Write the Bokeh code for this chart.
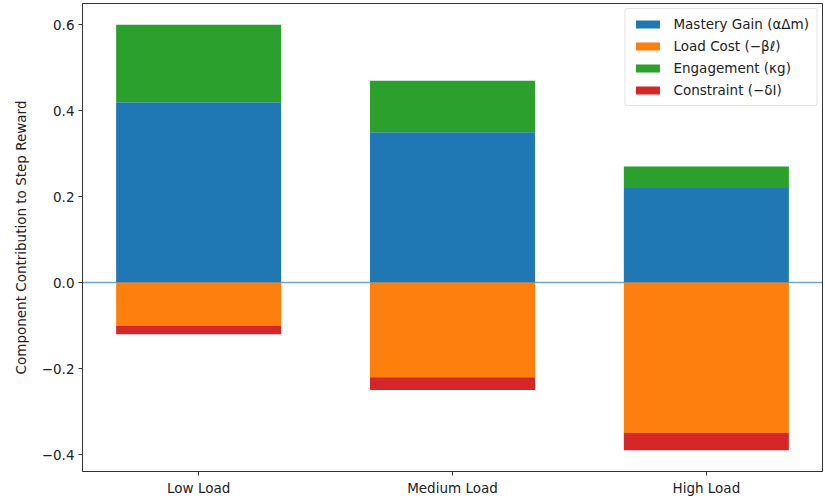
from bokeh.plotting import figure
from bokeh.models import ColumnDataSource, FixedTicker, Range1d, Span, Legend, LegendItem
from bokeh.embed import file_html
from bokeh.resources import INLINE

# Reward components per cognitive-load condition
categories = ["Low Load", "Medium Load", "High Load"]
mastery_gain = [0.42, 0.35, 0.22]
load_cost = [-0.10, -0.22, -0.35]
engagement = [0.18, 0.12, 0.05]
constraint = [-0.02, -0.03, -0.04]

y_ticks = [-0.4, -0.2, 0.0, 0.2, 0.4, 0.6]

colors = ["#1f77b4", "#ff7f0e", "#2ca02c", "#d62728"]
labels = ["Mastery Gain (\u03b1\u0394m)", "Load Cost (\u2212\u03b2\u2113)",
          "Engagement (\u03bag)", "Constraint (\u2212\u03b4I)"]

x = list(range(len(categories)))
src = ColumnDataSource(dict(
    x=x,
    m_bot=[0.0] * len(x),
    m_top=mastery_gain,
    e_top=[m + e for m, e in zip(mastery_gain, engagement)],
    l_top=[0.0] * len(x),
    l_bot=load_cost,
    c_bot=[l + c for l, c in zip(load_cost, constraint)],
))

p = figure(width=825, height=502, output_backend="svg", toolbar_location=None,
           x_range=Range1d(-0.4575, 2.4575), y_range=Range1d(-0.4395, 0.6495),
           min_border_left=82, min_border_right=3, min_border_top=3, min_border_bottom=31)

p.grid.visible = False
p.outline_line_color = "#333333"
p.outline_line_width = 1

zero = Span(location=0, dimension="width", line_color="#1f77b4", line_alpha=0.65,
            line_width=1.5, level="underlay")
p.add_layout(zero)

w = 0.65
r_m = p.vbar(x="x", bottom="m_bot", top="m_top", width=w, source=src,
             fill_color=colors[0], line_color=None)
r_l = p.vbar(x="x", bottom="l_bot", top="l_top", width=w, source=src,
             fill_color=colors[1], line_color=None)
r_e = p.vbar(x="x", bottom="m_top", top="e_top", width=w, source=src,
             fill_color=colors[2], line_color=None)
r_c = p.vbar(x="x", bottom="c_bot", top="l_bot", width=w, source=src,
             fill_color=colors[3], line_color=None)

legend = Legend(items=[LegendItem(label=labels[i], renderers=[r])
                       for i, r in enumerate([r_m, r_l, r_e, r_c])],
                location="top_right")
legend.label_text_font = "DejaVu Sans"
legend.label_text_font_size = "13.5px"
legend.label_text_color = "#222222"
legend.glyph_width = 30
legend.glyph_height = 10
legend.label_height = 14
legend.spacing = 6
legend.padding = 7
legend.margin = 5
legend.label_standoff = 11
legend.border_line_color = "#cccccc"
legend.border_line_width = 1
legend.border_radius = 3
legend.background_fill_alpha = 0.8
p.add_layout(legend)

# axes
p.xaxis.ticker = FixedTicker(ticks=x)
p.xaxis.major_label_overrides = {i: c for i, c in zip(x, categories)}
p.yaxis.ticker = FixedTicker(ticks=y_ticks)
p.yaxis.major_label_overrides = {t: (f"{t:.1f}".replace("-", "\u2212")) for t in y_ticks}
p.yaxis.axis_label = "Component Contribution to Step Reward"

for ax in (p.xaxis[0], p.yaxis[0]):
    ax.major_label_text_font = "DejaVu Sans"
    ax.major_label_text_font_size = "13.5px"
    ax.major_label_text_color = "#222222"
    ax.axis_label_text_font = "DejaVu Sans"
    ax.axis_label_text_font_size = "13.5px"
    ax.axis_label_text_font_style = "normal"
    ax.axis_label_text_color = "#222222"
    ax.minor_tick_line_color = None
    ax.major_tick_in = 0
    ax.major_tick_out = 4
    ax.major_tick_line_color = "#333333"
    ax.axis_line_color = "#333333"
    ax.major_label_standoff = 4
p.yaxis.axis_label_standoff = 10

open("out.html", "w").write(file_html(p, INLINE))
